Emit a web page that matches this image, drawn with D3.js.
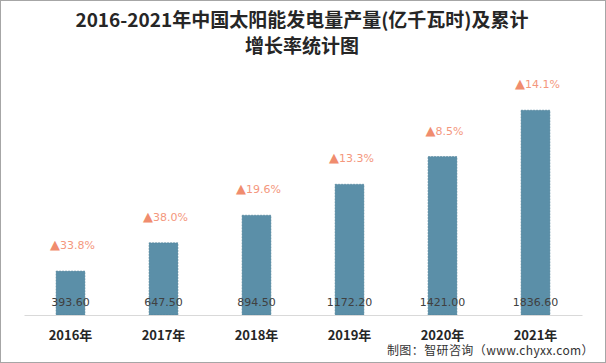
<!DOCTYPE html>
<html>
<head>
<meta charset="utf-8">
<script src="https://cdn.jsdelivr.net/npm/d3@7"></script>
<style>
  body { margin: 0; background: #fff; }
  svg { display: block; }
</style>
</head>
<body>
<div class="chart"></div>
<script>
var years = ["2016年", "2017年", "2018年", "2019年", "2020年", "2021年"];
var output = [393.6, 647.5, 894.5, 1172.2, 1421.0, 1836.6];
var growth = ["33.8%", "38.0%", "19.6%", "13.3%", "8.5%", "14.1%"];

var svgWidth = 606;
var svgHeight = 363;
var margin = { top: 92, right: 24, bottom: 48, left: 24 };

var svg = d3.select(".chart")
  .append("svg")
  .attr("width", svgWidth)
  .attr("height", svgHeight);

// outer frame
svg.append("rect")
  .attr("x", 0.5).attr("y", 0.5)
  .attr("width", svgWidth - 1).attr("height", svgHeight - 1)
  .attr("fill", "#fff")
  .attr("stroke", "#a6a6a6");

// title
var title = svg.append("text")
  .attr("text-anchor", "middle")
  .attr("font-family", "'Noto Sans CJK SC', sans-serif")
  .attr("font-weight", "bold")
  .attr("font-size", "19px")
  .attr("fill", "#262626");
title.append("tspan").attr("x", 302).attr("y", 27)
  .text("2016-2021年中国太阳能发电量产量(亿千瓦时)及累计");
title.append("tspan").attr("x", 302).attr("y", 53)
  .text("增长率统计图");

var x = d3.scaleBand()
  .domain(years)
  .range([margin.left, svgWidth - margin.right])
  .paddingInner(0.69)
  .paddingOuter(0.345);

var y = d3.scaleLinear()
  .domain([0, 2000])
  .range([svgHeight - margin.bottom, svgHeight - margin.bottom - 223]);

var chart = svg.append("g");

chart.selectAll("rect.bar")
  .data(output)
  .enter().append("rect")
    .attr("class", "bar")
    .attr("x", function(d, i) { return x(years[i]); })
    .attr("y", function(d) { return y(d); })
    .attr("width", x.bandwidth())
    .attr("height", function(d) { return y(0) - y(d); })
    .attr("fill", "#5b8fa8")
    .attr("stroke", "#4e7f97")
    .attr("stroke-width", 0.6)
    .attr("stroke-dasharray", "2,1");

// x axis
var bottomAxis = d3.axisBottom(x).tickSize(0).tickPadding(16);
var axisG = chart.append("g")
  .attr("transform", "translate(0," + y(0) + ")")
  .call(bottomAxis);
axisG.select(".domain").attr("stroke", "#d9d9d9").attr("stroke-width", 1.2);
axisG.selectAll(".tick text")
  .attr("font-family", "'Noto Sans CJK SC', sans-serif")
  .attr("font-weight", "bold")
  .attr("font-size", "13px")
  .attr("fill", "#262626");

// value labels
chart.selectAll("text.val")
  .data(output)
  .enter().append("text")
    .attr("class", "val")
    .attr("x", function(d, i) { return x(years[i]) + x.bandwidth() / 2; })
    .attr("y", y(0) - 9)
    .attr("text-anchor", "middle")
    .attr("font-family", "'DejaVu Sans', sans-serif")
    .attr("font-size", "11px")
    .attr("fill", "#404040")
    .text(function(d) { return d.toFixed(2); });

// growth labels
var g = chart.selectAll("text.growth")
  .data(growth)
  .enter().append("text")
    .attr("class", "growth")
    .attr("x", function(d, i) { return x(years[i]) + x.bandwidth() / 2 + 2; })
    .attr("y", function(d, i) { return y(output[i]) - 22; })
    .attr("text-anchor", "middle")
    .attr("font-family", "'DejaVu Sans', sans-serif")
    .attr("font-size", "11px")
    .attr("fill", "#f4977d");
g.append("tspan").attr("fill", "#f08c6e").attr("font-size", "13px").text("▲");
g.append("tspan").text(function(d) { return d; });

// source
svg.append("text")
  .attr("x", 594)
  .attr("y", 355)
  .attr("text-anchor", "end")
  .attr("font-family", "'Noto Sans CJK SC', sans-serif")
  .attr("font-size", "12px")
  .attr("letter-spacing", "0.4px")
  .attr("fill", "#333")
  .text("制图：智研咨询（www.chyxx.com）");
</script>
</body>
</html>
